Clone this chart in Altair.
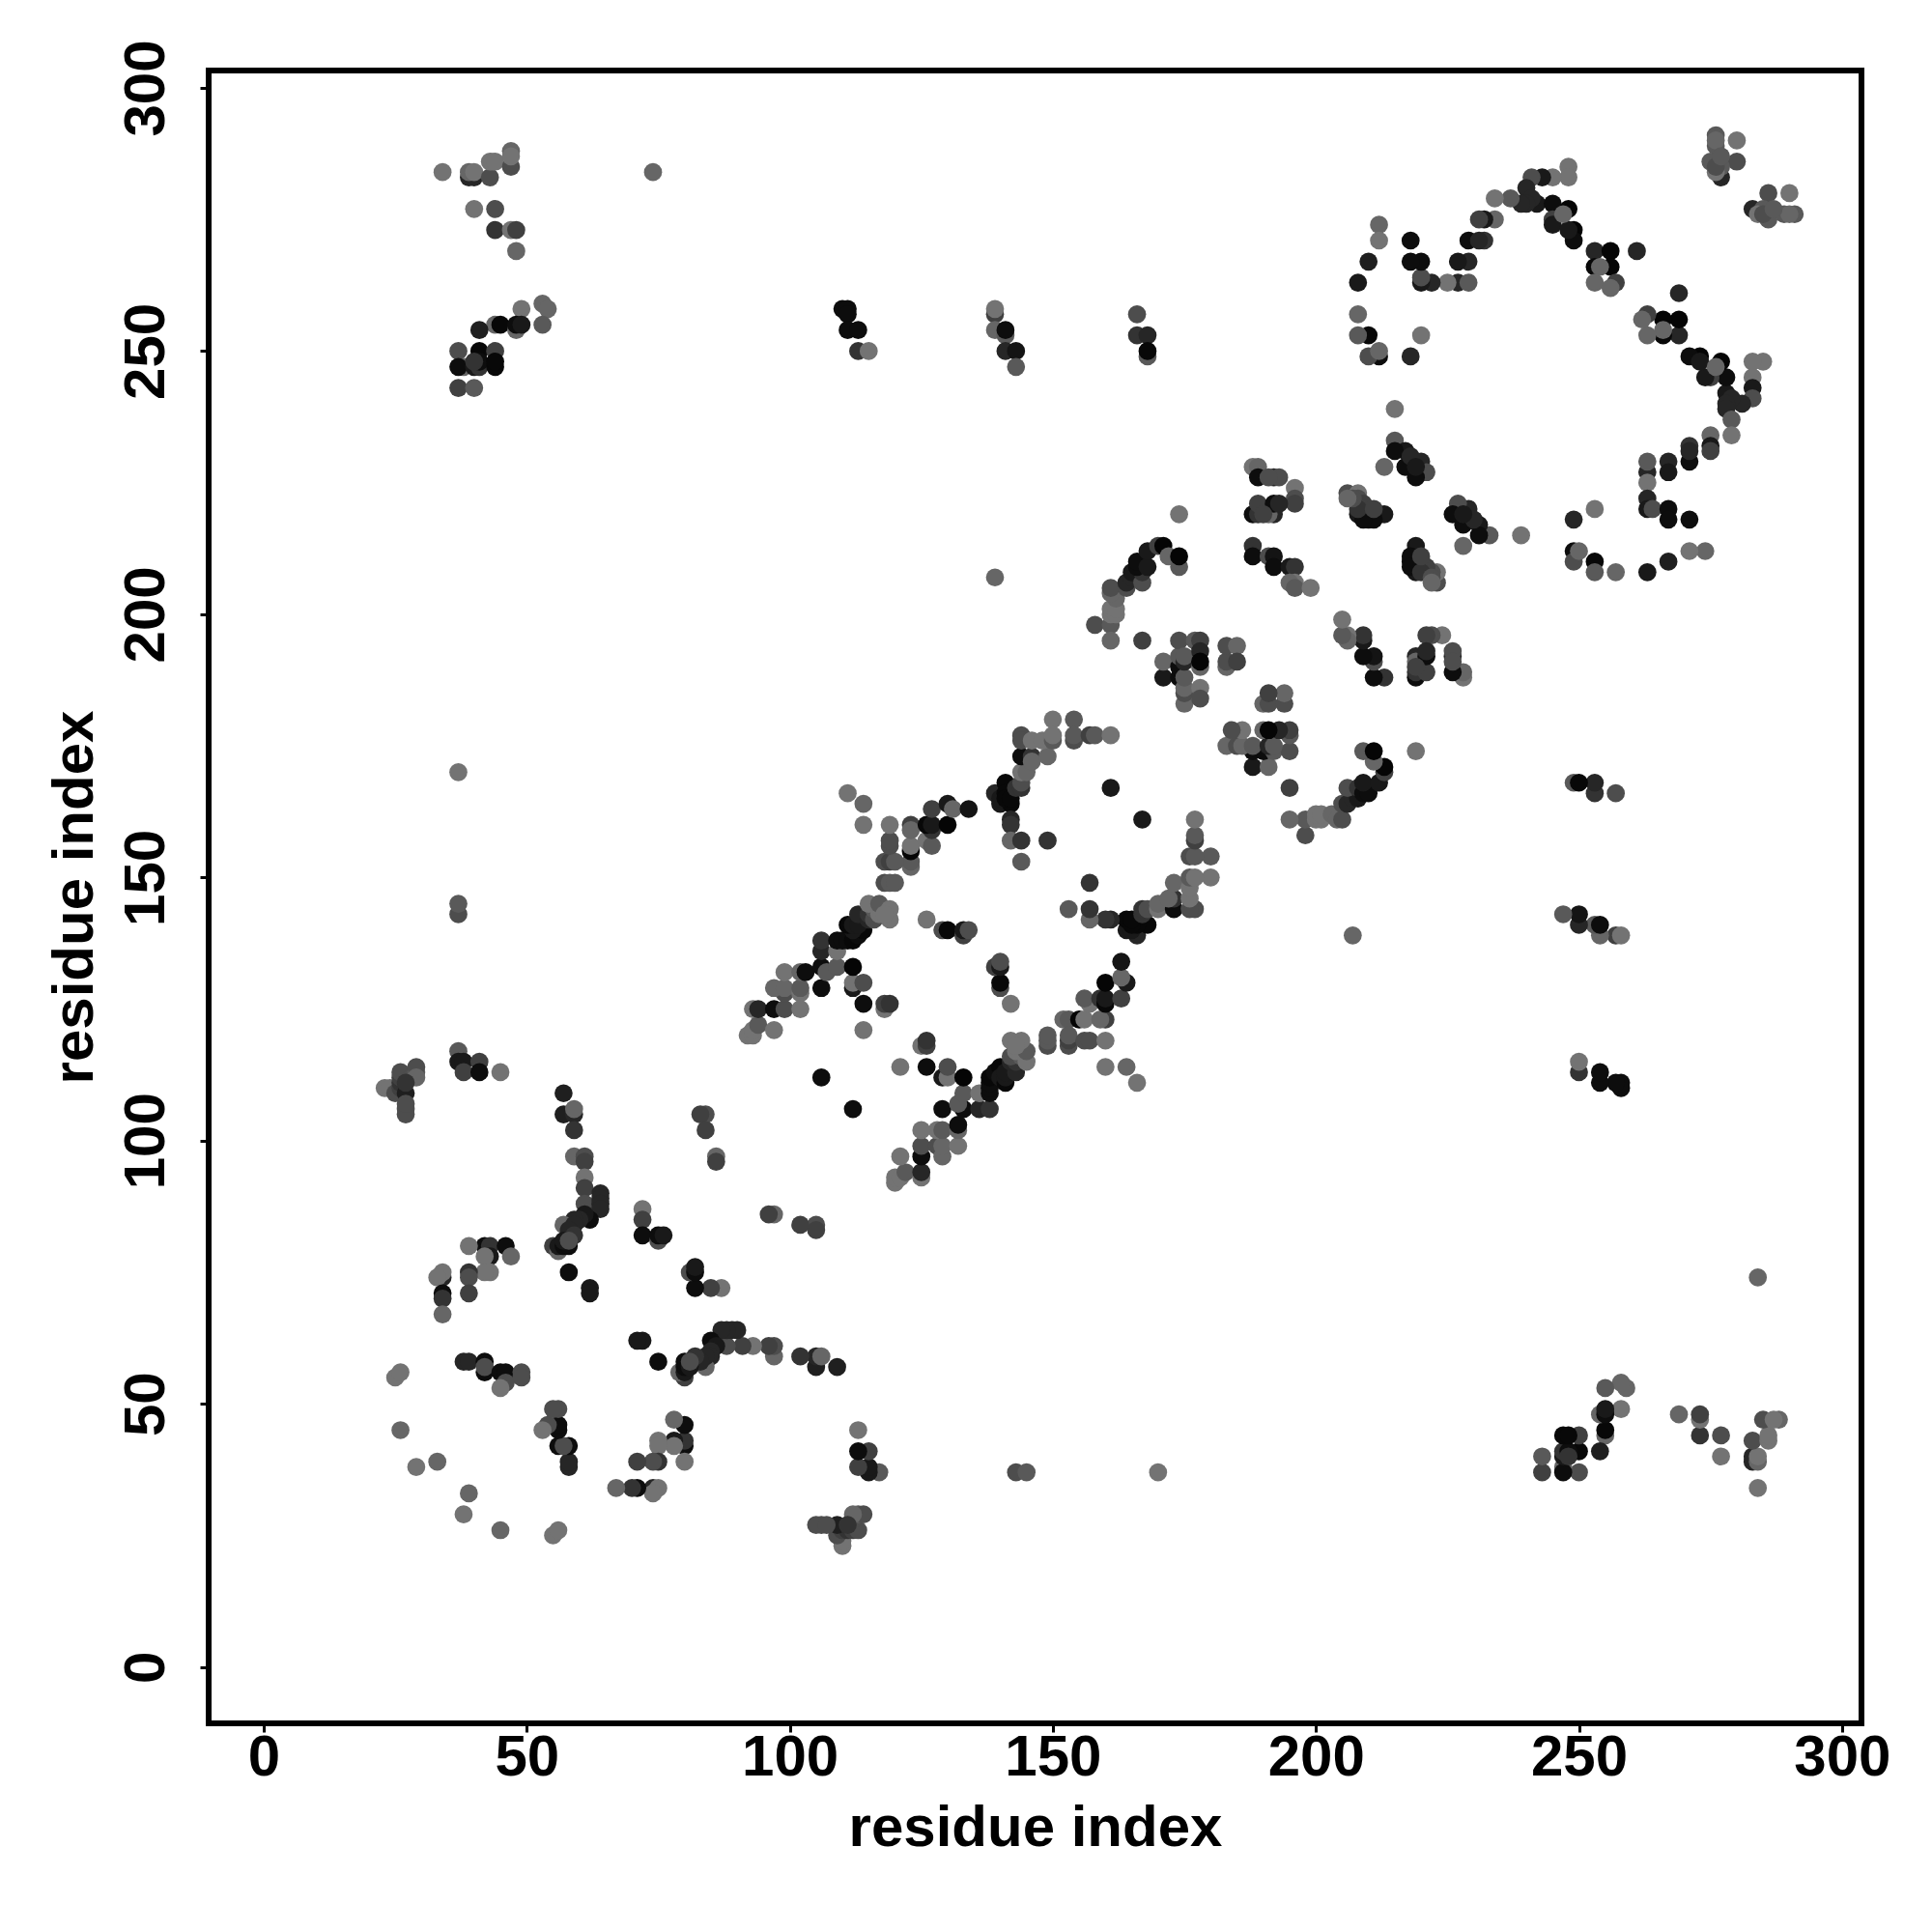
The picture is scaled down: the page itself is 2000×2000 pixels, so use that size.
import altair as alt
import pandas as pd

# contacts: (residue i, residue j, darkness); the map is symmetric
c_n_term = [(23,110,.55),(24,110,.55),(25,109,.7),(26,110,.75),(26,111,.8),(27,109,.88),(27,106,.7),(27,105,.7),(27,107,.7),(26,112,.75),(26,113,.7),(28,112,.7),(29,113,.65),(29,114,.7),(29,112,.6),(27,111,.8),
 (37,117,.65),(37,115,.9),(38,115,.9),(38,113,.75),(41,115,.75),(41,113,.95),(45,113,.55),(37,143,.7),(37,145,.65),(37,170,.55),(74,284,.6),
 (25,55,.55),(26,56,.55),(26,45,.6),(29,38,.55),(33,39,.6)]
c_a = [(57,109,.88),(57,105,.88),(59,105,.85),(59,106,.6),(59,102,.8),(59,97,.6),(61,97,.7),(61,96,.75),(61,93,.55),(61,91,.75),(61,88,.7),(64,90,.85),(64,89,.85),(64,88,.85),(64,87,.85),(62,85,.95),(61,86,.9),(60,85,.85),(59,85,.85),(57,84,.6),(59,84,.85),(58,83,.85),(59,82,.8),(55,80,.75),(56,79,.6),(56,80,.9),(57,80,.95),(58,80,.95),(57,81,.9),(58,81,.7),(58,75,.95),(62,72,.9),(62,71,.9),
 (72,87,.55),(72,85,.75),(72,82,.95),(75,81,.7),(75,82,.95),(76,82,.9)]
c_b = [(42,80,.95),(43,80,.8),(39,80,.55),(46,80,.95),(47,78,.6),(43,78,.9),(42,78,.55),(43,75,.55),(42,75,.55),(39,75,.8),(39,74,.7),(39,71,.75),(34,74,.85),(34,75,.55),(33,74,.55),(34,71,.95),(34,70,.8),(34,67,.6),
 (38,58,.85),(39,58,.85),(42,58,.95),(42,56,.95),(42,57,.7),(45,56,.95),(46,56,.95),(46,54,.7),(45,53,.55),(49,56,.7),(49,55,.7)]
c_c = [(84,105,.7),(83,105,.75),(84,102,.75),(86,97,.6),(86,96,.75),(82,76,.95),(82,75,.95),(82,72,.95),(85,72,.75),(87,72,.55)]
c_band = [(92,120,.55),(93,120,.55),(93,121,.55),(94,122,.65),(93,125,.55),(94,125,.85),(97,121,.55),(97,125,.95),(99,125,.7),(99,128,.7),(97,129,.6),(99,129,.6),(99,132,.55),(102,128,.55),(102,125,.55),(102,129,.65),(102,132,.6),(103,132,.95),
 (106,129,.95),(106,133,.95),(106,136,.85),(106,138,.8),(107,132,.65),(109,133,.65),(109,136,.55),(112,129,.9),(112,130,.55),(112,133,.98),(114,130,.7),(114,126,.95),(114,121,.55),(118,125,.55),(118,126,.75),(119,126,.8),(106,112,.95),
 (109,138,.95),(110,138,.95),(111,138,.95),(112,138,.97),(113,139,.95),(114,140,.97),(112,140,.9),(111,141,.97),(112,141,.9),(113,141,.9),(113,143,.85),(115,142,.85),(115,143,.8),(116,142,.7),(116,144,.65),(115,145,.55),(117,143,.55),(117,145,.65),(119,142,.55),(119,144,.55),(118,143,.55)]
c_d = [(118,149,.7),(119,149,.65),(120,149,.65),(123,152,.6),(123,153,.65),(118,153,.7),(119,153,.75),(120,153,.65),(119,156,.7),(119,157,.7),(119,160,.55),(123,155,.98),(123,156,.55),(123,160,.75),(123,159,.6),(126,157,.55),(127,156,.65),(127,159,.8),(126,160,.97),(127,160,.9),(127,163,.75),(130,160,.98),(130,164,.9),(131,163,.6),(134,163,.92),(114,160,.55),(114,164,.6),(111,166,.55),
 (129,140,.7),(130,140,.97),(133,139,.75),(133,140,.9),(134,140,.7),(126,142,.55)]
c_e = [(139,166,.85),(140,164,.9),(141,168,.97),(142,164,.97),(140,165,.9),(141,166,.97),(141,165,.97),(142,165,.97),(142,161,.85),(142,160,.8),(142,157,.6),(144,157,.8),(149,157,.8),(144,153,.65),(161,167,.9),(143,167,.8),(144,167,.8),(144,168,.7),(144,170,.55),(145,170,.6),(144,173,.95),(146,173,.8),(146,172,.6),(149,173,.6),(150,180,.55),(154,180,.65),(144,177,.7),(144,176,.7),(146,176,.55),(148,176,.55),(150,176,.65),(150,177,.55),(154,176,.7),(154,177,.65),(157,177,.75),(158,177,.65),(161,177,.55),(139,207,.6)]
c_f = [(158,198,.7),(161,198,.65),(161,195,.6),(167,195,.75),(161,200,.55),(161,201,.55),(162,200,.55),(162,201,.55),(162,203,.6),(161,204,.6),(161,205,.7),(164,205,.7),(164,206,.85),(165,207,.85),(165,208,.9),(167,206,.7),(167,208,.8),(166,209,.95),(166,210,.95),(168,209,.9),(168,212,.9),(170,213,.75),(171,213,.98),(172,211,.6),(174,209,.65),(174,211,.98),(174,219,.55),
 (171,188,.9),(171,191,.6),(174,188,.95),(174,190,.95),(174,192,.65),(174,195,.7),(175,183,.6),(175,185,.7),(175,186,.6),(175,188,.65),(175,191,.85),(175,192,.65),(177,195,.65),(178,195,.75),(178,193,.85),(178,190,.6),(178,191,.98),(178,186,.55),(178,184,.7),(183,190,.6),(183,191,.7),(183,194,.7),(185,194,.6),(185,191,.75),(190,183,.6),(191,185,.75),(194,185,.6),(191,183,.75),(194,183,.7)]
c_g = [(188,228,.55),(189,228,.6),(189,226,.95),(192,226,.85),(193,226,.7),(196,224,.55),(196,222,.7),(196,221,.75),(188,219,.95),(189,219,.8),(189,221,.75),(192,219,.85),(191,219,.6),(192,221,.95),(193,221,.85),(188,213,.8),(188,211,.95),(191,211,.7),(192,211,.92),(192,209,.95),(195,209,.9),(196,209,.8),(196,206,.55),(195,206,.6),(196,205,.65),(199,205,.55),
 (205,199,.55),(205,196,.6),(206,196,.6),(206,195,.6),(209,196,.85),(209,195,.9),(209,192,.95),(211,192,.85),(211,191,.75),(211,188,.95),(213,188,.75),(219,192,.85),(219,190,.75),(219,188,.95),(221,189,.7),(221,192,.85),(221,196,.8),(222,196,.75),(224,196,.6),(226,193,.75),(226,191,.7),(228,189,.55),(228,188,.6)]
c_h = [(206,223,.7),(208,223,.55),(208,222,.7),(208,221,.75),(208,219,.9),(210,220,.75),(210,218,.95),(212,219,.95),(213,219,.9),(211,218,.95),(209,218,.95),(209,221,.75),(208,220,.8),(207,222,.7),(206,222,.6),(211,220,.75),
 (215,239,.55),(215,233,.65),(213,228,.6),(217,231,.9),(215,231,.95),(220,229,.85),(221,227,.7),(219,226,.95),(217,228,.95),(218,230,.85),(219,228,.9)]
c_i = [(276,291,.65),(276,289,.65),(280,290,.55),(276,286,.7),(275,286,.65),(280,286,.7),(277,283,.85),(277,285,.65),(286,280,.7),(290,280,.55),(283,277,.85),(284,276,.55),(285,276,.7),(286,276,.7),(290,276,.6),(287,277,.65),
 (248,285,.55),(248,283,.55),(245,283,.55),(243,283,.9),(241,283,.7),(240,281,.85),(242,278,.9),(241,279,.85),(240,278,.85),(239,278,.85),(237,279,.65),(234,279,.55),(234,275,.6),(232,275,.9),(231,275,.75),(232,271,.8),(229,271,.95),(231,271,.85),(229,267,.85),(227,267,.9),(227,263,.85),(229,263,.65),(225,263,.55),(222,263,.85),(220,263,.9),(220,264,.7),(220,267,.95),(218,267,.95),(218,271,.95),(212,274,.6),(212,271,.55),(210,267,.88),(208,263,.9),(208,257,.6),(210,253,.97),(208,253,.65),(212,249,.95),(210,249,.7),(212,250,.6),(220,253,.55),(218,249,.85)]
c_j = [(245,278,.95),(248,277,.98),(245,275,.75),(245,274,.9),(249,273,.98),(249,271,.95),(248,273,.9),(247,276,.6),
 (253,269,.85),(256,269,.98),(261,269,.85),(253,266,.97),(256,266,.98),(254,266,.6),(253,263,.6),(257,263,.75),(256,262,.6)]
c_k = [(34,284,.55),(39,283,.85),(40,283,.85),(39,284,.6),(40,284,.55),(43,283,.7),(43,286,.55),(44,286,.55),(47,285,.7),(47,288,.6),(47,287,.55),(40,277,.55),(44,277,.7),(44,273,.8),(47,273,.55),(48,273,.75),(48,269,.6),
 (49,258,.55),(53,259,.6),(54,258,.6),(53,255,.65),(44,255,.6),(45,255,.97),(41,254,.88),(48,254,.6),(48,255,.95),(49,255,.9),(37,250,.7),(41,250,.97),(44,250,.75),(38,247,.6),(37,247,.95),(40,247,.9),(41,247,.8),(41,248,.95),(40,248,.8),(44,247,.97),(44,248,.97),(37,243,.75),(40,243,.65)]
c_l = [(110,258,.95),(111,258,.95),(111,257,.95),(111,254,.95),(113,254,.95),(113,250,.8),(115,250,.55),(139,257,.75),(139,258,.55),(139,254,.6),(141,253,.65),(141,254,.95),(141,250,.85),(143,250,.92),(143,247,.65),(166,257,.7),(166,253,.8),(168,253,.85),(168,249,.65),(168,250,.97)]

groups = [c_n_term, c_a, c_b, c_c, c_band, c_d, c_e, c_f, c_g, c_h, c_i, c_j, c_k, c_l]
tick_values = [0, 50, 100, 150, 200, 250, 300]
x_domain = [-10.46, 303.7]
y_domain = [-10.7, 303.3]
font = "Liberation Sans"

seen, rows = set(), []
for g in groups:
    for i, j, d in g:
        for a, b in ((i, j), (j, i)):
            if (a, b) in seen:
                continue
            seen.add((a, b))
            v = round((1 - d) * 255)
            rows.append({"a": a, "b": b, "c": f"#{v:02x}{v:02x}{v:02x}", "k": len(rows)})
df = pd.DataFrame(rows)

chart = (
    alt.Chart(df)
    .mark_circle(size=350, opacity=1, clip=True)
    .encode(
        x=alt.X("a:Q", scale=alt.Scale(domain=x_domain, nice=False, zero=False),
                axis=alt.Axis(values=tick_values, title="residue index", labelPadding=-3, titlePadding=14)),
        y=alt.Y("b:Q", scale=alt.Scale(domain=y_domain, nice=False, zero=False),
                axis=alt.Axis(values=tick_values, title="residue index", labelAngle=270, labelAlign="center",
                              labelBaseline="bottom", labelPadding=25, titlePadding=13)),
        color=alt.Color("c:N", scale=None),
        order=alt.Order("k:Q"),
    )
    .properties(width=1711, height=1711, padding={"left": 39, "top": 32, "right": 5, "bottom": 5})
    .configure_view(stroke="black", strokeWidth=6, fill="white")
    .configure_axis(grid=False, domain=False, tickColor="black", tickWidth=3, tickSize=9,
                    labelFont=font, labelFontWeight="bold", labelFontSize=60, labelColor="black",
                    titleFont=font, titleFontWeight="bold", titleFontSize=60, titleColor="black", labelOverlap=False, labelFlush=False)
)
chart.save("out.html", embed_options={"renderer": "svg", "actions": False})
